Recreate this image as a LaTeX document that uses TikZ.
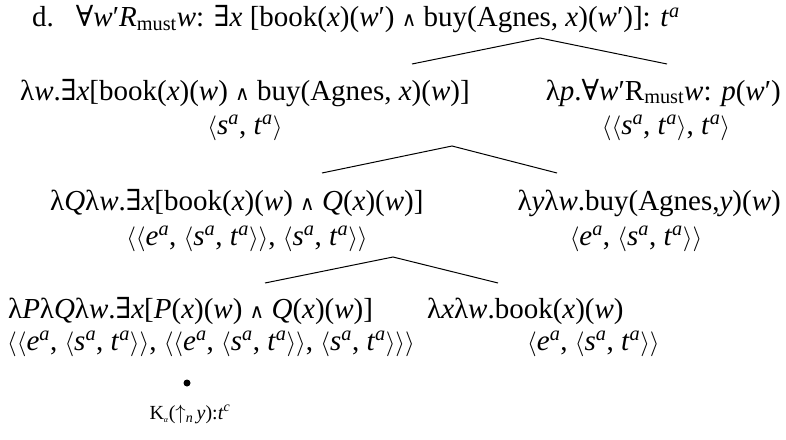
\documentclass[tikz,border=0pt]{standalone}
\usepackage{fontspec}
\setmainfont{Liberation Serif}
\newfontfamily\opsym{DejaVu Serif}
\usetikzlibrary{positioning}

\newcommand{\allq}{{\opsym ∀}}
\newcommand{\exq}{{\opsym ∃}}
\newcommand{\andq}{{\opsym\fontsize{20}{20}\selectfont ∧}}
\newcommand{\lang}{$\langle$}
\newcommand{\rang}{$\rangle$}
\newcommand{\tyS}{\textit{s}\textsuperscript{\textit{a}}}
\newcommand{\tyT}{\textit{t}\textsuperscript{\textit{a}}}
\newcommand{\tyE}{\textit{e}\textsuperscript{\textit{a}}}

\begin{document}
\begin{tikzpicture}[x=1pt,y=-1pt,font=\fontsize{29}{34}\selectfont,
  lab/.style={anchor=base,inner sep=0pt},
  branch/.style={line width=1pt}]
  \useasboundingbox (0,0) rectangle (786,439);
  % root
  \node[lab,anchor=base west] (top) at (32,27)
    {d.\hspace{22pt}\allq\textit{w}′\textit{R}\textsubscript{must}\textit{w}: \exq\textit{x} [book(\textit{x})(\textit{w}′) \andq\ buy(Agnes, \textit{x})(\textit{w}′)]: \tyT};
  % second row
  \node[lab,anchor=base west] (fnW) at (20,100)
    {λ\textit{w}.\exq\textit{x}[book(\textit{x})(\textit{w}) \andq\ buy(Agnes, \textit{x})(\textit{w})]};
  \node[lab] (tyW) at (245,134) {\lang\tyS, \tyT\rang};
  \node[lab,anchor=base east] (fnP) at (781,100)
    {λ\textit{p}.\allq\textit{w}′R\textsubscript{must}\textit{w}: \textit{p}(\textit{w}′)};
  \node[lab] (tyP) at (666,134) {\lang\lang\tyS, \tyT\rang, \tyT\rang};
  % third row
  \node[lab,anchor=base west] (fnQ) at (50,210)
    {λ\textit{Q}λ\textit{w}.\exq\textit{x}[book(\textit{x})(\textit{w}) \andq\ \textit{Q}(\textit{x})(\textit{w})]};
  \node[lab] (tyQ) at (247,245)
    {\lang\lang\tyE, \lang\tyS, \tyT\rang\rang, \lang\tyS, \tyT\rang\rang};
  \node[lab,anchor=base east] (fnBuy) at (781,210)
    {λ\textit{y}λ\textit{w}.buy(Agnes,\textit{y})(\textit{w})};
  \node[lab] (tyBuy) at (636,245) {\lang\tyE, \lang\tyS, \tyT\rang\rang};
  % fourth row
  \node[lab,anchor=base west] (fnDet) at (8,318)
    {λ\textit{P}λ\textit{Q}λ\textit{w}.\exq\textit{x}[\textit{P}(\textit{x})(\textit{w}) \andq\ \textit{Q}(\textit{x})(\textit{w})]};
  \node[lab,anchor=base west] (tyDet) at (7,350)
    {\lang\lang\tyE, \lang\tyS, \tyT\rang\rang, \lang\lang\tyE, \lang\tyS, \tyT\rang\rang, \lang\tyS, \tyT\rang\rang\rang};
  \node[lab,anchor=base west] (fnBook) at (427,318)
    {λ\textit{x}λ\textit{w}.book(\textit{x})(\textit{w})};
  \node[lab,anchor=base west] (tyBook) at (527,350) {\lang\tyE, \lang\tyS, \tyT\rang\rang};
  % bullet and index
  \node[circle,fill,inner sep=0pt,minimum size=7pt] (dot) at (187,383) {};
  \node[lab,font=\fontsize{20}{24}\selectfont] (idx) at (190,419)
    {K\textsubscript{\fontsize{8}{8}\selectfont\textit{α}}($\uparrow$\textsubscript{\textit{n}}\,\textit{y}):\textit{t}\textsuperscript{\textit{c}}};
  % branches
  \coordinate (t0) at (540,38);
  \coordinate (t1) at (412,64);
  \coordinate (t2) at (667,64);
  \coordinate (m0) at (452,146);
  \coordinate (m1) at (322,173);
  \coordinate (m2) at (557,173);
  \coordinate (b0) at (393,257);
  \coordinate (b1) at (265,283);
  \coordinate (b2) at (498,283);
  \draw[branch] (t1) -- (t0) -- (t2);
  \draw[branch] (m1) -- (m0) -- (m2);
  \draw[branch] (b1) -- (b0) -- (b2);
\end{tikzpicture}
\end{document}
